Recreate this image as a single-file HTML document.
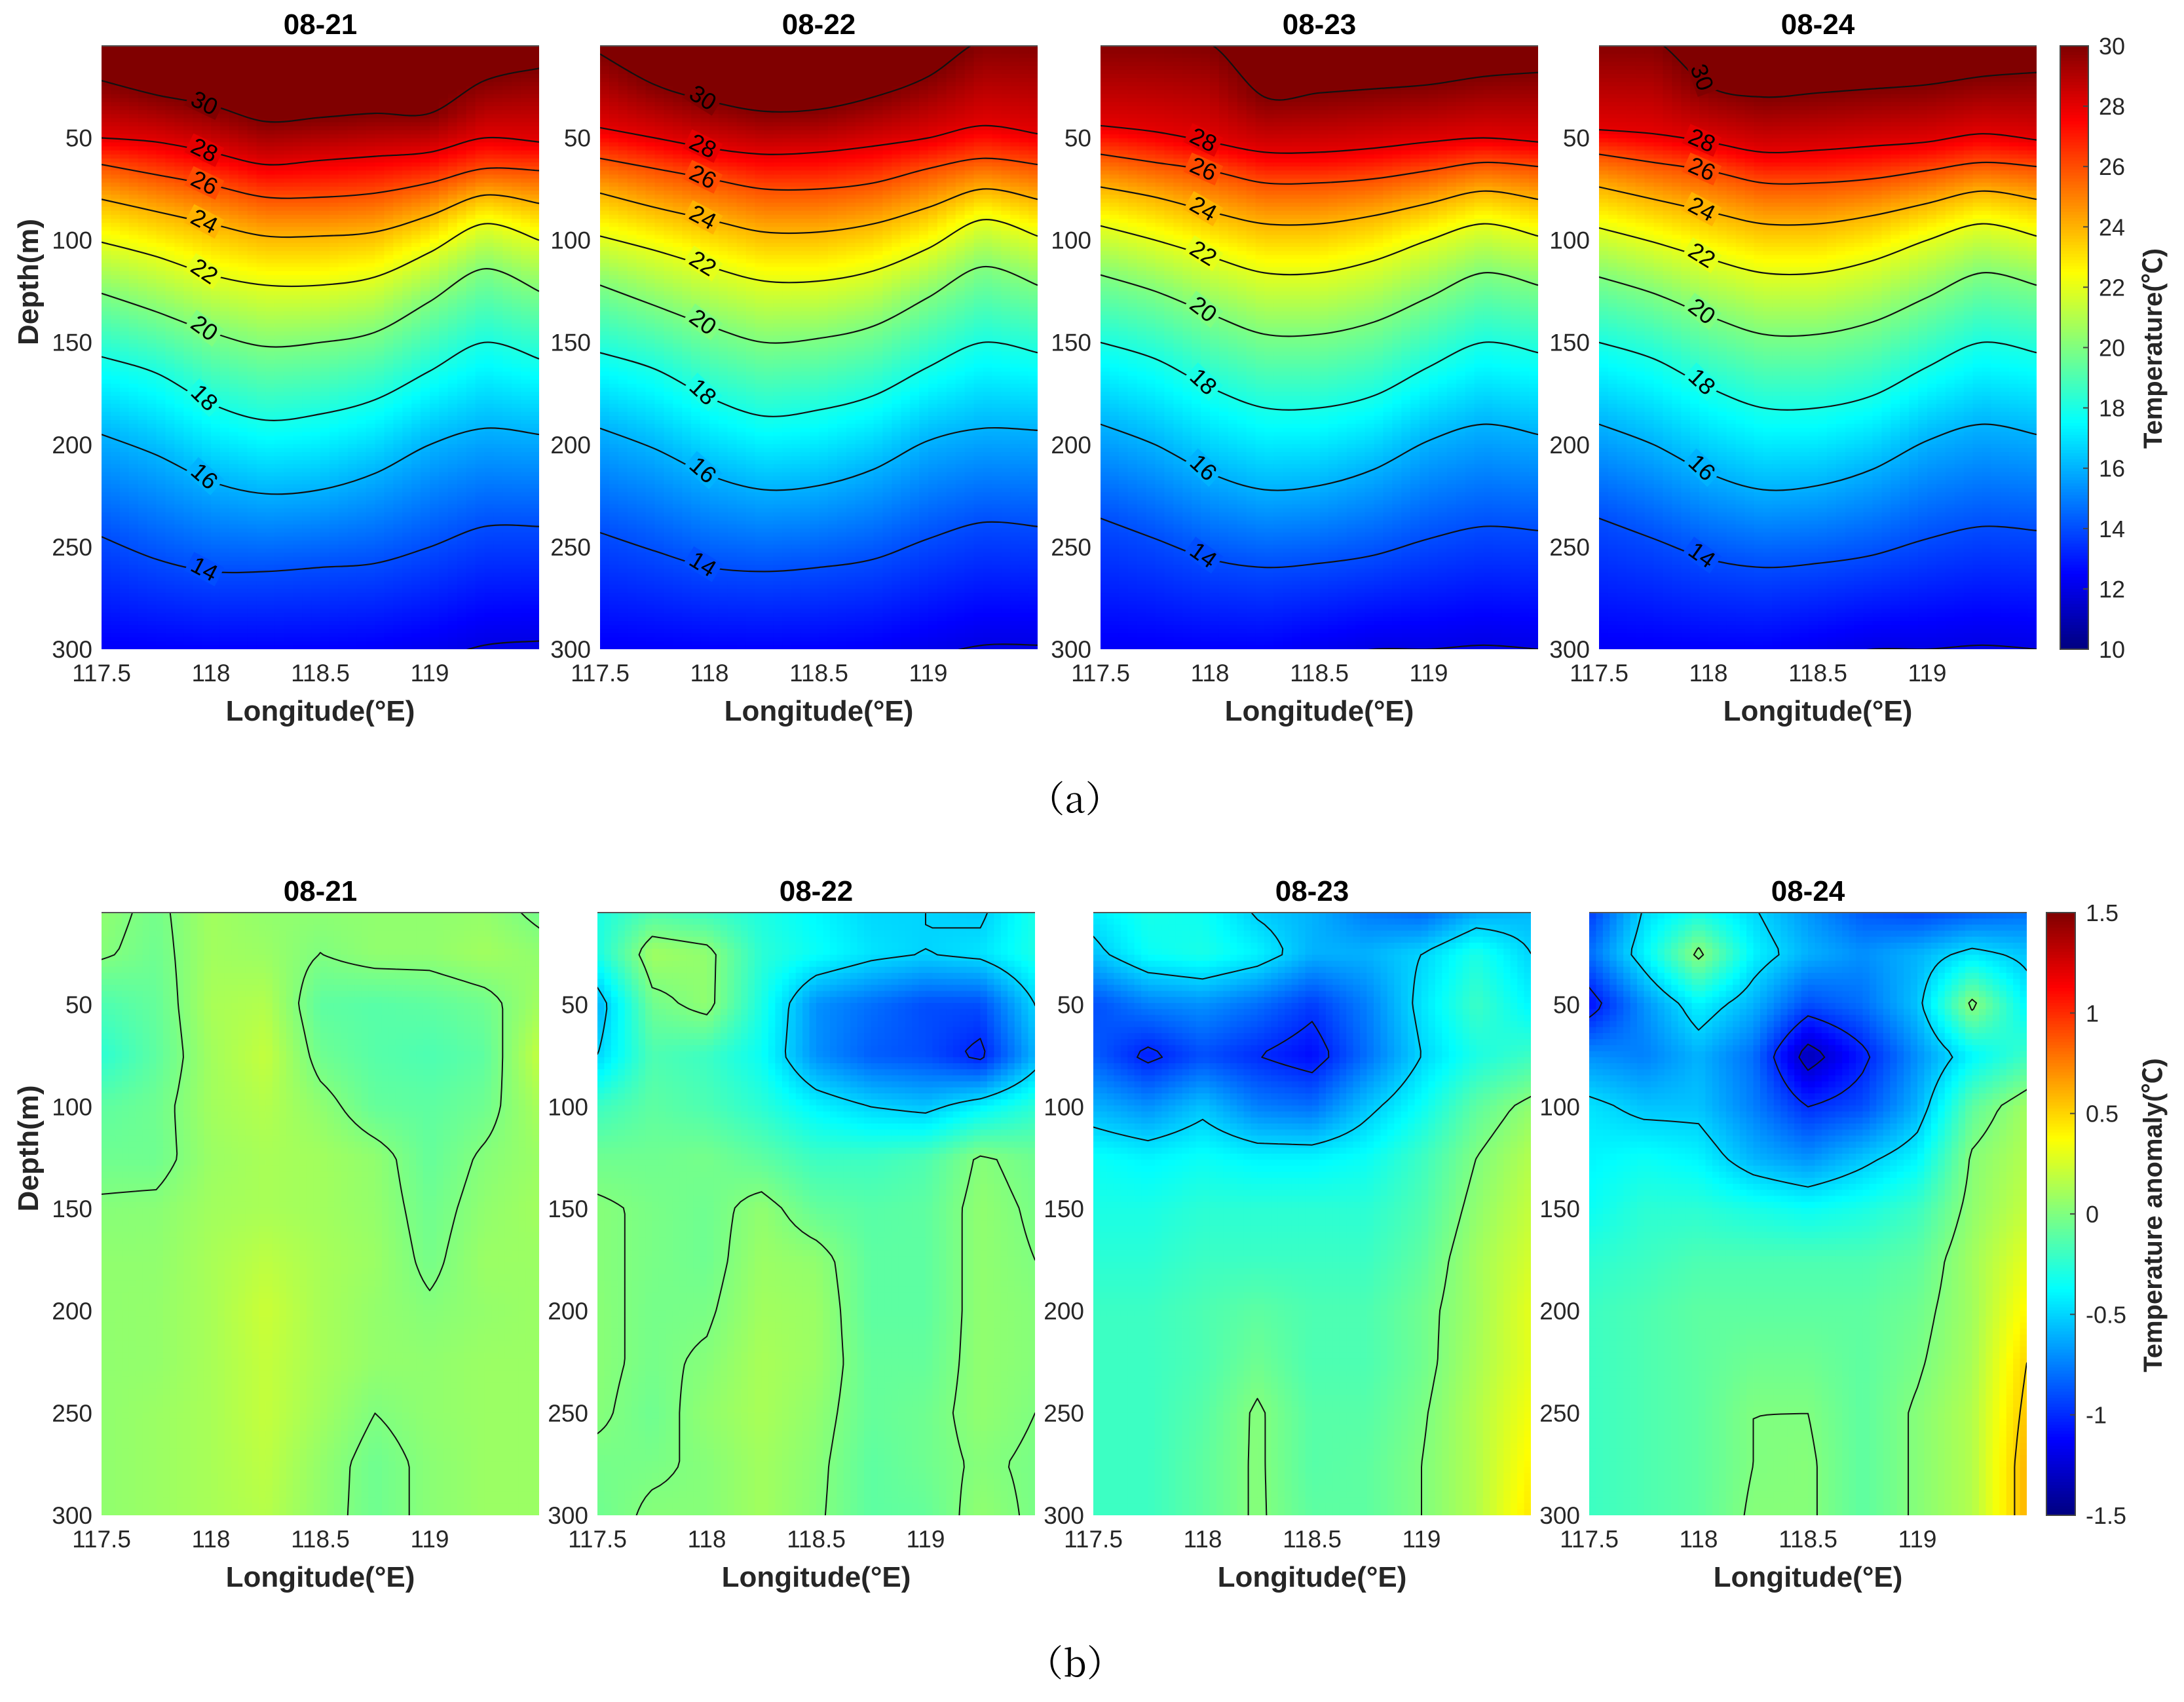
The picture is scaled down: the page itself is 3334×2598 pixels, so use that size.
<!DOCTYPE html>
<html><head><meta charset="utf-8">
<style>
html,body{margin:0;padding:0;background:#fff;}
svg{display:block;font-family:"Liberation Sans","Noto Sans CJK SC",sans-serif;}
</style></head>
<body>
<svg id="fig" width="3334" height="2598" viewBox="0 0 3334 2598" xmlns="http://www.w3.org/2000/svg">
<defs id="defs"></defs>
<g id="root"></g>
</svg>
<script>
// ---------- data ----------
const dates = ["08-21","08-22","08-23","08-24"];
const lons = [117.5,117.75,118,118.25,118.5,118.75,119,119.25,119.5];
const xTicks = [117.5,118,118.5,119];
const yTicks = [50,100,150,200,250,300];
const tempLevels = [30,28,26,24,22,20,18,16,14,12];
const tempTicks = [10,12,14,16,18,20,22,24,26,28,30];
const anomTicks = [-1.5,-1,-0.5,0,0.5,1,1.5];
const anomLevels = [-1.25,-1,-0.5,0,0.5];
const anomDepths = [0,25,50,75,100,125,150,175,200,225,250,275,300];
// isotherm depths (m) per longitude, one block per day
const iso0821 = [
 [22,29,34,42,40,38,38,22,16],[50,52,57,63,61,59,57,50,52],[63,68,73,79,79,77,72,65,66],
 [80,86,92,98,98,96,88,78,82],[101,108,117,122,122,118,106,92,100],[126,135,145,152,150,145,130,114,125],
 [157,165,180,188,185,178,164,150,158],[195,205,218,224,222,214,200,192,195],[245,256,262,262,260,258,250,240,240],
 [312,312,312,312,312,310,306,298,296]];
const iso0822 = [
 [9,24,32,37,36,30,20,2,2],[45,50,55,58,57,54,50,44,48],[60,65,70,75,75,72,65,60,63],
 [77,84,90,96,96,92,84,75,80],[98,105,113,120,120,115,104,90,98],[122,132,142,150,148,142,128,113,122],
 [155,163,177,186,183,176,162,150,155],[192,202,215,222,220,212,198,192,193],[243,252,260,262,260,256,246,238,240],
 [312,312,312,312,312,310,304,298,298]];
const iso0823 = [
 [2,2,4,30,28,26,24,20,18],[44,47,52,57,57,55,52,50,52],[58,62,66,72,72,70,66,62,64],
 [74,79,86,92,92,88,82,76,80],[93,100,108,116,116,110,100,92,98],[117,125,136,146,146,140,128,116,122],
 [150,158,172,182,182,176,162,150,155],[190,200,214,222,220,212,198,190,195],[236,246,256,260,258,254,246,240,242],
 [312,312,312,312,305,300,300,298,300]];
const iso0824 = [
 [2,2,25,30,28,26,24,20,18],[46,48,52,57,56,54,52,48,51],[58,62,66,72,72,70,66,62,64],
 [74,80,86,92,92,88,82,76,80],[94,101,109,116,116,110,100,92,98],[118,126,137,146,146,140,128,116,122],
 [150,158,172,182,182,176,162,150,155],[190,200,214,222,220,212,198,190,195],[236,246,256,260,258,254,246,240,242],
 [312,312,312,312,305,300,300,298,300]];
const isoData = [iso0821,iso0822,iso0823,iso0824];
// temperature anomaly grids (rows: anomDepths, cols: lons)
const anom0821 = [
 [0.05,-0.03,0.1,0.05,0.05,0.05,0.05,0.05,-0.05],[0.02,-0.05,0.1,0.08,0.0,0.05,0.05,0.1,0.05],
 [-0.15,-0.08,0.12,0.15,-0.1,-0.12,-0.1,-0.05,0.1],[-0.25,-0.1,0.1,0.2,-0.05,-0.12,-0.15,-0.1,0.2],
 [-0.1,-0.05,0.1,0.15,0.05,-0.08,-0.1,-0.05,0.12],[-0.05,-0.05,0.08,0.12,0.1,0.05,-0.08,0.02,0.08],
 [0.02,0.03,0.1,0.12,0.1,0.06,-0.05,0.05,0.1],[0.05,0.05,0.12,0.18,0.12,0.08,-0.03,0.08,0.08],
 [0.05,0.06,0.12,0.22,0.12,0.06,0.02,0.06,0.08],[0.05,0.06,0.12,0.2,0.12,0.06,0.05,0.08,0.08],
 [0.05,0.08,0.12,0.2,0.1,0.0,0.05,0.08,0.08],[0.05,0.08,0.12,0.18,0.06,-0.05,0.03,0.08,0.08],
 [0.05,0.08,0.12,0.16,0.05,-0.05,0.03,0.08,0.08]];
const anom0822 = [
 [-0.3,-0.2,-0.25,-0.3,-0.4,-0.5,-0.5,-0.55,-0.3],[-0.3,0.1,0.05,-0.25,-0.35,-0.45,-0.5,-0.45,-0.3],
 [-0.6,-0.05,0.05,-0.3,-0.7,-0.8,-0.9,-0.9,-0.5],[-0.5,-0.15,-0.2,-0.35,-0.7,-0.85,-0.9,-1.05,-0.6],
 [-0.2,-0.1,-0.15,-0.25,-0.4,-0.5,-0.55,-0.4,-0.25],[-0.05,-0.05,-0.03,-0.1,-0.2,-0.2,-0.15,0.02,-0.05],
 [0.02,-0.02,-0.05,0.05,-0.08,-0.12,-0.1,0.05,-0.02],[0.02,-0.02,-0.05,0.08,0.05,-0.1,-0.1,0.05,0.0],
 [0.03,-0.03,-0.02,0.1,0.08,-0.1,-0.1,0.05,0.02],[0.03,-0.03,0.02,0.12,0.08,-0.08,-0.08,0.05,0.02],
 [0.02,-0.05,0.05,0.12,0.05,-0.08,-0.05,0.05,0.0],[-0.03,-0.02,0.02,0.1,0.03,-0.1,-0.05,0.02,-0.02],
 [-0.05,0.02,0.02,0.1,0.02,-0.1,-0.08,0.05,-0.02]];
const anom0823 = [
 [-0.4,-0.3,-0.35,-0.55,-0.6,-0.8,-0.9,-0.7,-0.6],[-0.55,-0.35,-0.3,-0.4,-0.6,-0.6,-0.5,-0.3,-0.5],
 [-0.9,-0.75,-0.7,-0.8,-0.95,-0.75,-0.45,-0.2,-0.4],[-0.85,-1.05,-0.9,-1.0,-1.1,-0.8,-0.5,-0.3,-0.2],
 [-0.6,-0.7,-0.55,-0.75,-0.8,-0.55,-0.35,-0.1,0.05],[-0.35,-0.4,-0.35,-0.4,-0.4,-0.35,-0.2,0.0,0.15],
 [-0.3,-0.3,-0.25,-0.25,-0.25,-0.25,-0.15,0.05,0.2],[-0.25,-0.25,-0.2,-0.2,-0.2,-0.2,-0.1,0.1,0.25],
 [-0.2,-0.2,-0.15,-0.1,-0.15,-0.15,-0.05,0.1,0.3],[-0.2,-0.2,-0.15,-0.05,-0.15,-0.15,-0.05,0.12,0.3],
 [-0.2,-0.2,-0.12,0.02,-0.12,-0.12,-0.02,0.15,0.35],[-0.2,-0.2,-0.1,0.02,-0.12,-0.1,0.0,0.15,0.4],
 [-0.2,-0.2,-0.1,0.02,-0.1,-0.1,0.0,0.15,0.45]];
const anom0824 = [
 [-1.0,-0.5,-0.4,-0.5,-0.7,-0.9,-1.0,-0.95,-0.85],[-0.8,-0.4,0.05,-0.4,-0.6,-0.7,-0.6,-0.45,-0.55],
 [-1.1,-0.7,-0.4,-0.6,-0.9,-0.8,-0.55,0.05,-0.4],[-0.7,-0.75,-0.6,-0.8,-1.35,-1.05,-0.7,-0.4,-0.2],
 [-0.45,-0.55,-0.55,-0.75,-1.0,-0.9,-0.6,-0.1,0.1],[-0.4,-0.35,-0.4,-0.6,-0.7,-0.55,-0.4,0.02,0.15],
 [-0.35,-0.25,-0.25,-0.3,-0.35,-0.3,-0.2,0.05,0.2],[-0.25,-0.2,-0.15,-0.15,-0.15,-0.15,-0.1,0.1,0.3],
 [-0.2,-0.15,-0.1,-0.1,-0.1,-0.1,-0.05,0.1,0.4],[-0.2,-0.15,-0.1,-0.05,-0.05,-0.1,-0.02,0.12,0.5],
 [-0.2,-0.15,-0.1,0.0,0.0,-0.1,0.02,0.15,0.55],[-0.2,-0.15,-0.1,0.0,0.02,-0.1,0.02,0.15,0.6],
 [-0.2,-0.15,-0.1,0.02,0.02,-0.1,0.02,0.15,0.6]];
const anomData = [anom0821,anom0822,anom0823,anom0824];

// ---------- layout ----------
const NS="http://www.w3.org/2000/svg";
const root=document.getElementById('root');
const defs=document.getElementById('defs');
const PW=668, LON0=117.5, LON1=119.5, D0=5, D1=300;
const rows=[
 {xs:[155,916,1680,2441], top:70, bot:991, titleY:52, tickY:1040, labY:1100, cb:[3145,3188], vmin:10, vmax:30},
 {xs:[155,912,1669,2426], top:1393, bot:2313, titleY:1375, tickY:2362, labY:2422, cb:[3124,3168], vmin:-1.5, vmax:1.5}
];
function mk(tag,attrs,parent){const e=document.createElementNS(NS,tag);for(const k in attrs)e.setAttribute(k,attrs[k]);(parent||root).appendChild(e);return e;}
function clamp(v){return Math.max(0,Math.min(1,v));}
function jet(t){t=clamp(t);const r=clamp(1.5-Math.abs(4*t-3)),g=clamp(1.5-Math.abs(4*t-2)),b=clamp(1.5-Math.abs(4*t-1));
 return 'rgb('+Math.round(r*255)+','+Math.round(g*255)+','+Math.round(b*255)+')';}
function xS(x0,lon){return x0+(lon-LON0)/(LON1-LON0)*PW;}
function yS(r,d){return r.top+(d-D0)/(D1-D0)*(r.bot-r.top);}

function tempCol(iso,j,d){
 const pts=[[0,31]];
 for(let k=0;k<tempLevels.length;k++)pts.push([iso[k][j],tempLevels[k]]);
 pts.sort((a,b)=>a[0]-b[0]);
 if(d<=pts[0][0])return pts[0][1];
 for(let i=1;i<pts.length;i++){if(d<=pts[i][0]){const a=pts[i-1],b=pts[i];const f=(b[0]-a[0])>0?(d-a[0])/(b[0]-a[0]):1;return a[1]+f*(b[1]-a[1]);}}
 return pts[pts.length-1][1]-(d-pts[pts.length-1][0])*0.02;
}
function tempAt(iso,lon,d){
 const fx=(lon-LON0)/0.25;let j=Math.floor(fx);if(j>=lons.length-1)j=lons.length-2;const t=fx-j;
 return tempCol(iso,j,d)*(1-t)+tempCol(iso,j+1,d)*t;
}
function anomAt(g,lon,d){
 const fx=(lon-LON0)/0.25;let j=Math.floor(fx);if(j>=lons.length-1)j=lons.length-2;if(j<0)j=0;const tx=fx-j;
 const fy=d/25;let i=Math.floor(fy);if(i>=anomDepths.length-1)i=anomDepths.length-2;const ty=fy-i;
 return (g[i][j]*(1-tx)+g[i][j+1]*tx)*(1-ty)+(g[i+1][j]*(1-tx)+g[i+1][j+1]*tx)*ty;
}
function smoothPath(P){
 let d='M'+P[0][0].toFixed(1)+' '+P[0][1].toFixed(1);
 for(let i=0;i<P.length-1;i++){
  const p0=P[Math.max(0,i-1)],p1=P[i],p2=P[i+1],p3=P[Math.min(P.length-1,i+2)];
  const c1=[p1[0]+(p2[0]-p0[0])/6,p1[1]+(p2[1]-p0[1])/6],c2=[p2[0]-(p3[0]-p1[0])/6,p2[1]-(p3[1]-p1[1])/6];
  d+='C'+c1[0].toFixed(1)+' '+c1[1].toFixed(1)+' '+c2[0].toFixed(1)+' '+c2[1].toFixed(1)+' '+p2[0].toFixed(1)+' '+p2[1].toFixed(1);
 }
 return d;
}

function axes(r,ri,p,x0,prefix){
 const g=mk('g',{});
 
 
 const t=mk('text',{x:x0+PW/2,y:r.titleY,'text-anchor':'middle','font-size':44,'font-weight':'bold',fill:'#000'},g);
 t.textContent=dates[p];
 
 
 xTicks.forEach(v=>{const e=mk('text',{x:xS(x0,v),y:r.tickY,'text-anchor':'middle','font-size':37,fill:'#262626'},g);e.textContent=String(v);
  });
 yTicks.forEach(v=>{const e=mk('text',{x:x0-14,y:yS(r,v)+13,'text-anchor':'end','font-size':37,fill:'#262626'},g);e.textContent=String(v);
  });
 const xl=mk('text',{x:x0+PW/2,y:r.labY,'text-anchor':'middle','font-size':44,'font-weight':'bold',fill:'#262626'},g);
 xl.textContent='Longitude(°E)';
 
 mk('line',{x1:x0,y1:r.top,x2:x0+PW,y2:r.top,stroke:'#555','stroke-width':2},g);
}

function clipFor(id,x0,r){const c=mk('clipPath',{id:id},defs);mk('rect',{x:x0,y:r.top,width:PW,height:r.bot-r.top},c);return 'url(#'+id+')';}

function contourPath(vals,NX,NY,xs,ys,lev){
 let d='';
 const interp=(a,b,va,vb)=>a+(lev-va)/(vb-va)*(b-a);
 for(let i=0;i<NY-1;i++)for(let j=0;j<NX-1;j++){
  const a=vals[i][j],b=vals[i][j+1],c=vals[i+1][j+1],e=vals[i+1][j];
  const pts=[];
  if((a<lev)!==(b<lev))pts.push([interp(xs[j],xs[j+1],a,b),ys[i]]);
  if((b<lev)!==(c<lev))pts.push([xs[j+1],interp(ys[i],ys[i+1],b,c)]);
  if((e<lev)!==(c<lev))pts.push([interp(xs[j],xs[j+1],e,c),ys[i+1]]);
  if((a<lev)!==(e<lev))pts.push([xs[j],interp(ys[i],ys[i+1],a,e)]);
  for(let k=0;k+1<pts.length;k+=2)d+='M'+pts[k][0].toFixed(1)+' '+pts[k][1].toFixed(1)+'L'+pts[k+1][0].toFixed(1)+' '+pts[k+1][1].toFixed(1);
 }
 return d;
}

// ---------- top row: temperature ----------
(function(){
 const r=rows[0];
 dates.forEach((dt,p)=>{
  const x0=r.xs[p], iso=isoData[p];
  const g=mk('g',{});
  
  
  g.setAttribute('clip-path',clipFor('ct'+p,x0,r));
  const NX=48,NY=150, cw=PW/NX, ch=(r.bot-r.top)/NY;
  for(let i=0;i<NY;i++)for(let j=0;j<NX;j++){
   const lon=LON0+(j+0.5)/NX*(LON1-LON0), d=D0+(i+0.5)/NY*(D1-D0);
   const v=tempAt(iso,lon,d);
   mk('rect',{x:(x0+j*cw).toFixed(2),y:(r.top+i*ch).toFixed(2),width:(cw+0.6).toFixed(2),height:(ch+0.6).toFixed(2),fill:jet((v-r.vmin)/(r.vmax-r.vmin))},g);
  }
  tempLevels.forEach((lev,k)=>{
   const P=lons.map((ln,j)=>[xS(x0,ln),yS(r,iso[k][j])]);
   const pl=mk('path',{d:smoothPath(P),fill:'none',stroke:'#111','stroke-width':2.2},g);
   
   
   if(lev>=14){
    const dlab=iso[k][1]*0.2+iso[k][2]*0.8;
    if(dlab>8){
     const lx=xS(x0,117.97), ly=yS(r,dlab);
     const ang=Math.atan2(yS(r,iso[k][2])-yS(r,iso[k][1]),xS(x0,118)-xS(x0,117.75))*180/Math.PI;
     const rot=(p>=2&&lev===30)?70:ang+15;
     mk('rect',{x:lx-26,y:ly-16,width:52,height:32,fill:jet((lev-r.vmin)/(r.vmax-r.vmin)),transform:'rotate('+rot+' '+lx+' '+ly+')'},g);
     const tl=mk('text',{x:lx,y:ly+12,'text-anchor':'middle','font-size':36,fill:'#000',transform:'rotate('+rot+' '+lx+' '+ly+')'},g);
     tl.textContent=String(lev);
     
     
    }
   }
  });
  axes(r,0,p,x0,'temperature');
 });
})();

// ---------- bottom row: anomaly ----------
(function(){
 const r=rows[1];
 dates.forEach((dt,p)=>{
  const x0=r.xs[p], grid=anomData[p];
  const g=mk('g',{});
  
  
  g.setAttribute('clip-path',clipFor('ca'+p,x0,r));
  const NX=64,NY=100;
  const xs=[],ys=[],vals=[];
  for(let j=0;j<=NX;j++)xs.push(x0+j/NX*PW);
  for(let i=0;i<=NY;i++)ys.push(r.top+i/NY*(r.bot-r.top));
  for(let i=0;i<=NY;i++){const row=[];const d=D0+i/NY*(D1-D0);for(let j=0;j<=NX;j++){row.push(anomAt(grid,LON0+j/NX*(LON1-LON0),d));}vals.push(row);}
  for(let i=0;i<NY;i++)for(let j=0;j<NX;j++){
   const v=(vals[i][j]+vals[i][j+1]+vals[i+1][j]+vals[i+1][j+1])/4;
   mk('rect',{x:xs[j].toFixed(2),y:ys[i].toFixed(2),width:(xs[j+1]-xs[j]+0.6).toFixed(2),height:(ys[i+1]-ys[i]+0.6).toFixed(2),fill:jet((v-r.vmin)/(r.vmax-r.vmin))},g);
  }
  anomLevels.forEach(lev=>{
   const d=contourPath(vals,NX+1,NY+1,xs,ys,lev);
   if(d){const pa=mk('path',{d:d,fill:'none',stroke:'#111','stroke-width':2,'stroke-linecap':'round'},g);
    
    }
  });
  axes(r,1,p,x0,'anomaly');
 });
})();

// ---------- colorbars ----------
function colorbar(r,ticks,label,labY,name){
 const g=mk('g',{});
 
 
 const N=200,h=(r.bot-r.top)/N;
 for(let i=0;i<N;i++){const t=1-(i+0.5)/N;mk('rect',{x:r.cb[0],y:(r.top+i*h).toFixed(2),width:r.cb[1]-r.cb[0],height:(h+0.6).toFixed(2),fill:jet(t)},g);}
 mk('rect',{x:r.cb[0],y:r.top,width:r.cb[1]-r.cb[0],height:r.bot-r.top,fill:'none',stroke:'#444','stroke-width':2},g);
 ticks.forEach(v=>{const y=r.top+(r.vmax-v)/(r.vmax-r.vmin)*(r.bot-r.top);
  mk('line',{x1:r.cb[1]-8,y1:y,x2:r.cb[1],y2:y,stroke:'#444','stroke-width':2},g);
  const e=mk('text',{x:r.cb[1]+16,y:y+13,'font-size':36,fill:'#262626'},g);e.textContent=String(v);
  });
 const lx=3300;
 const t=mk('text',{x:lx,y:labY,'text-anchor':'middle','font-size':40,'font-weight':'bold',fill:'#262626',transform:'rotate(-90 '+lx+' '+labY+')'},g);
 t.textContent=label;
 
 
}
colorbar(rows[0],tempTicks,'Temperature(℃)',532,'temperature-colorbar');
colorbar(rows[1],anomTicks,'Temperature anomaly(℃)',1855,'anomaly-colorbar');

[[rows[0],'depth-axis-title-a'],[rows[1],'depth-axis-title-b']].forEach(([r,nm])=>{
 const cy=(r.top+r.bot)/2-100;
 const t=mk('text',{x:58,y:cy,'text-anchor':'middle','font-size':44,'font-weight':'bold',fill:'#262626',transform:'rotate(-90 58 '+cy+')'});
 t.textContent='Depth(m)';
 
 
});
[['（a）',1222,'caption-a'],['（b）',2541,'caption-b']].forEach(([s,y,nm])=>{
 const t=mk('text',{x:1641,y:y+18,'text-anchor':'middle','font-size':56,fill:'#000','font-family':'"Noto Serif CJK SC","Liberation Serif",serif'});
 t.textContent=s;
 
 
});
</script>
</body></html>
